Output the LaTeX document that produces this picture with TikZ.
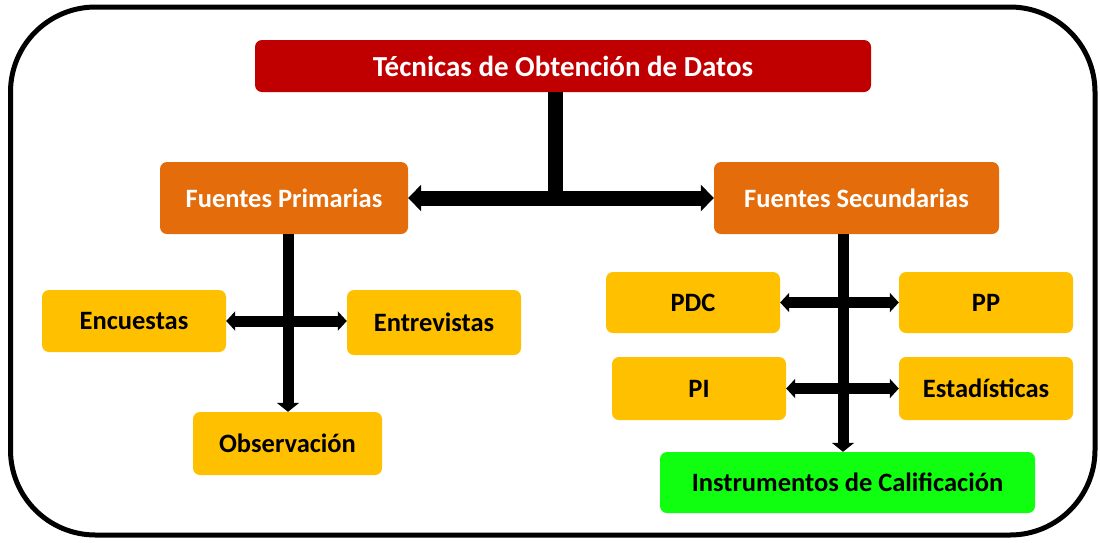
\documentclass[tikz,border=0pt]{standalone}
\usepackage{fontspec}
\setmainfont{Carlito}
\usetikzlibrary{arrows.meta}
\definecolor{tred}{HTML}{C00000}
\definecolor{torange}{HTML}{E46C0A}
\definecolor{tyellow}{HTML}{FFC000}
\definecolor{tgreen}{RGB}{16,255,16}
\tikzset{
  box/.style={rounded corners=7pt, inner sep=0pt, font=\bfseries\fontsize{26.5}{30}\selectfont},
  yel/.style={box, fill=tyellow, text=black},
  ora/.style={box, fill=torange, text=white},
  conn/.style={line width=11pt, black},
  tip/.style={-{Triangle[length=9pt,width=22pt]}},
  dtip/.style={{Triangle[length=9pt,width=19pt]}-{Triangle[length=9pt,width=19pt]}},
}
\begin{document}
\begin{tikzpicture}[x=1pt,y=-1pt]
\useasboundingbox (0,0) rectangle (1100,542);
\draw[line width=5pt, rounded corners=85pt] (10.5,7) rectangle (1095,535);
% nodes
\node[box, fill=tred, text=white, minimum width=616pt, minimum height=52pt, font=\bfseries\fontsize{29}{32}\selectfont] (title) at (563,66) {Técnicas de Obtención de Datos};
\node[ora, minimum width=248pt, minimum height=72pt] (fp) at (284,198) {Fuentes Primarias};
\node[ora, minimum width=285pt, minimum height=72pt] (fs) at (856.5,198) {Fuentes Secundarias};
\node[yel, minimum width=184pt, minimum height=62pt] (enc) at (134,321) {Encuestas};
\node[yel, minimum width=174pt, minimum height=65pt] (ent) at (434,322.5) {Entrevistas};
\node[yel, minimum width=189pt, minimum height=63pt] (obs) at (287.5,443.5) {Observación};
\node[yel, minimum width=174pt, minimum height=61pt] (pdc) at (693,302.5) {PDC};
\node[yel, minimum width=174pt, minimum height=61pt] (pp) at (986,302.5) {PP};
\node[yel, minimum width=174pt, minimum height=63pt] (pi) at (699,388.5) {PI};
\node[yel, minimum width=174pt, minimum height=63pt] (est) at (986,388.5) {Estadísticas};
\node[box, fill=tgreen, text=black, minimum width=375pt, minimum height=61pt] (inst) at (847.5,482.5) {Instrumentos de Calificación};
% junction coordinates
\coordinate (j1) at (555,198);
\coordinate (v1) at (288,0);
\coordinate (v2) at (843,0);
% connectors
\draw[line width=15pt] (j1 |- title.south) -- (j1);
\draw[line width=15pt, {Triangle[length=13pt,width=26pt]}-{Triangle[length=13pt,width=26pt]}] (fp.east) -- (fs.west);
\draw[conn, tip] (v1 |- fp.south) -- (v1 |- obs.north);
\draw[conn, dtip] (enc.east) -- (enc.east -| ent.west);
\draw[conn, tip] (v2 |- fs.south) -- (v2 |- inst.north);
\draw[conn, dtip] (pdc.east) -- (pp.west);
\draw[conn, dtip] (pi.east) -- (est.west);
\end{tikzpicture}
\end{document}
